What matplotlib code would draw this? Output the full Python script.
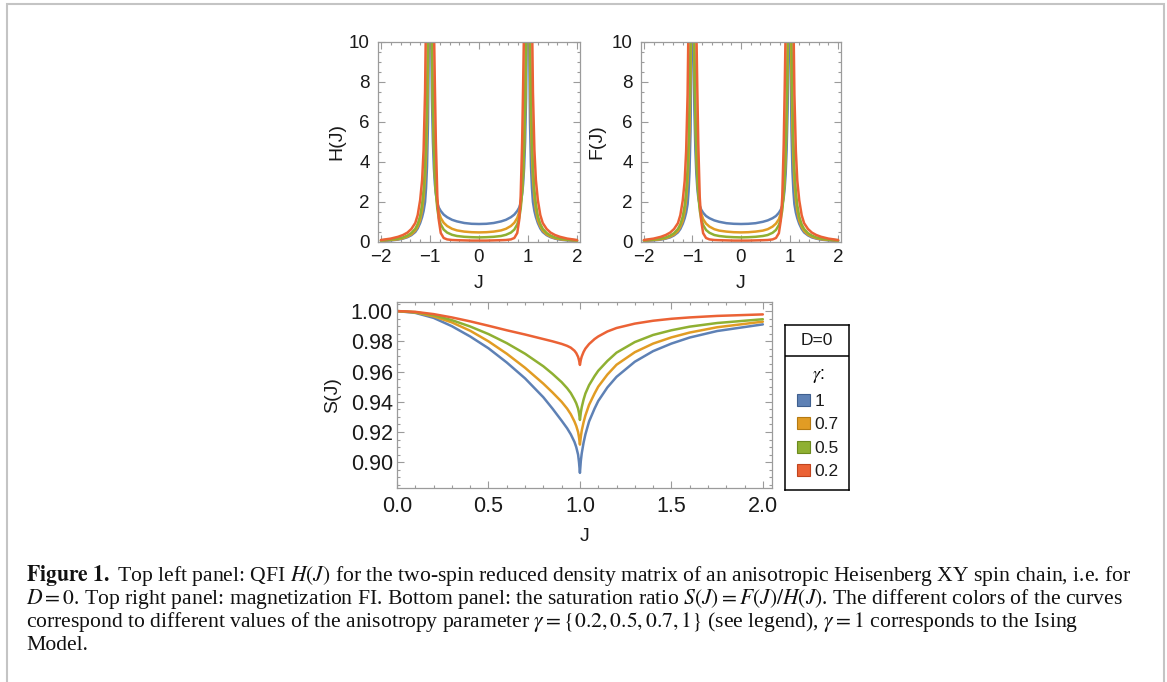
import matplotlib
matplotlib.use("Agg")
import matplotlib.pyplot as plt
from matplotlib.patches import Patch, Rectangle
from matplotlib.ticker import MultipleLocator, FormatStrFormatter

# ---- data -----------------------------------------------------------------
gamma_labels = ["1", "0.7", "0.5", "0.2"]
colors = ["#5E81B5", "#E19C24", "#8FB032", "#EB6235"]
edge_colors = ["#3F5F8F", "#B57A12", "#6C8A1E", "#C0441E"]

J_top = [-2.0, -1.8, -1.65, -1.55, -1.46, -1.38, -1.3, -1.25, -1.2, -1.16, -1.13,
         -1.1, -1.08, -1.06, -1.04, -1.02, -1.0, -0.98, -0.96, -0.94, -0.92, -0.9,
         -0.88, -0.85, -0.82, -0.78, -0.72, -0.65, -0.55, -0.45, -0.3, -0.15,
         0.0,
         0.15, 0.3, 0.45, 0.55, 0.65, 0.72, 0.78, 0.82, 0.85, 0.88, 0.9, 0.92,
         0.94, 0.96, 0.98, 1.0, 1.02, 1.04, 1.06, 1.08, 1.1, 1.13, 1.16, 1.2,
         1.25, 1.3, 1.38, 1.46, 1.55, 1.65, 1.8, 2.0]

# QFI H(J)
H_g1 = [0.05, 0.08, 0.12, 0.17, 0.24, 0.34, 0.5, 0.68, 0.95, 1.25, 1.55,
        2.0, 2.7, 3.8, 6.0, 11.0, 18.0, 11.5, 7.2, 5.0, 3.7, 2.9,
        2.4, 1.95, 1.72, 1.55, 1.37, 1.24, 1.11, 1.03, 0.95, 0.91,
        0.90,
        0.91, 0.95, 1.03, 1.11, 1.24, 1.37, 1.55, 1.72, 1.95, 2.4, 2.9, 3.7,
        5.0, 7.2, 11.5, 18.0, 11.0, 6.0, 3.8, 2.7, 2.0, 1.55, 1.25, 0.95,
        0.68, 0.5, 0.34, 0.24, 0.17, 0.12, 0.08, 0.05]
H_g07 = [0.07, 0.1, 0.14, 0.19, 0.27, 0.38, 0.57, 0.78, 1.1, 1.6, 2.2,
         3.2, 4.3, 6.0, 9.0, 13.0, 20.0, 14.0, 9.5, 6.6, 4.7, 3.4,
         2.6, 1.85, 1.5, 1.2, 0.96, 0.8, 0.66, 0.58, 0.52, 0.49,
         0.48,
         0.49, 0.52, 0.58, 0.66, 0.8, 0.96, 1.2, 1.5, 1.85, 2.6, 3.4, 4.7,
         6.6, 9.5, 14.0, 20.0, 13.0, 9.0, 6.0, 4.3, 3.2, 2.2, 1.6, 1.1,
         0.78, 0.57, 0.38, 0.27, 0.19, 0.14, 0.1, 0.07]
H_g05 = [0.08, 0.12, 0.17, 0.23, 0.32, 0.45, 0.66, 0.9, 1.3, 1.9, 2.6,
         3.8, 5.2, 7.3, 10.5, 15.0, 22.0, 15.0, 10.2, 7.0, 4.9, 3.4,
         2.5, 1.65, 1.2, 0.88, 0.62, 0.47, 0.36, 0.3, 0.26, 0.24,
         0.23,
         0.24, 0.26, 0.3, 0.36, 0.47, 0.62, 0.88, 1.2, 1.65, 2.5, 3.4, 4.9,
         7.0, 10.2, 15.0, 22.0, 15.0, 10.5, 7.3, 5.2, 3.8, 2.6, 1.9, 1.3,
         0.9, 0.66, 0.45, 0.32, 0.23, 0.17, 0.12, 0.08]
H_g02 = [0.1, 0.17, 0.26, 0.35, 0.47, 0.65, 0.95, 1.35, 2.1, 3.1, 4.6,
         7.5, 11.5, 15.0, 20.0, 25.0, 30.0, 26.0, 20.0, 15.0, 11.0, 7.8,
         5.0, 2.3, 1.1, 0.45, 0.2, 0.13, 0.1, 0.09, 0.08, 0.07,
         0.07,
         0.07, 0.08, 0.09, 0.1, 0.13, 0.2, 0.45, 1.1, 2.3, 5.0, 7.8, 11.0,
         15.0, 20.0, 26.0, 30.0, 25.0, 20.0, 15.0, 11.5, 7.5, 4.6, 3.1, 2.1,
         1.35, 0.95, 0.65, 0.47, 0.35, 0.26, 0.17, 0.1]

# magnetization FI F(J)
F_g1 = [0.05, 0.08, 0.12, 0.17, 0.23, 0.33, 0.48, 0.65, 0.91, 1.19, 1.47,
        1.89, 2.53, 3.54, 5.54, 10.0, 16.1, 10.5, 6.6, 4.6, 3.42, 2.69,
        2.23, 1.82, 1.62, 1.46, 1.3, 1.19, 1.08, 1.01, 0.94, 0.91,
        0.90,
        0.91, 0.94, 1.01, 1.08, 1.19, 1.3, 1.46, 1.62, 1.82, 2.23, 2.69, 3.42,
        4.6, 6.6, 10.5, 16.1, 10.0, 5.54, 3.54, 2.53, 1.89, 1.47, 1.19, 0.91,
        0.65, 0.48, 0.33, 0.23, 0.17, 0.12, 0.08, 0.05]
F_g07 = [0.07, 0.1, 0.14, 0.19, 0.27, 0.37, 0.55, 0.76, 1.06, 1.54, 2.11,
         3.05, 4.08, 5.66, 8.42, 12.1, 18.2, 12.9, 8.83, 6.16, 4.4, 3.2,
         2.45, 1.75, 1.43, 1.14, 0.92, 0.77, 0.64, 0.57, 0.52, 0.49,
         0.48,
         0.49, 0.52, 0.57, 0.64, 0.77, 0.92, 1.14, 1.43, 1.75, 2.45, 3.2, 4.4,
         6.16, 8.83, 12.9, 18.2, 12.1, 8.42, 5.66, 4.08, 3.05, 2.11, 1.54, 1.06,
         0.76, 0.55, 0.37, 0.27, 0.19, 0.14, 0.1, 0.07]
F_g05 = [0.08, 0.12, 0.17, 0.23, 0.32, 0.44, 0.65, 0.88, 1.27, 1.84, 2.51,
         3.66, 4.98, 6.96, 9.96, 14.1, 20.4, 14.1, 9.61, 6.62, 4.65, 3.24,
         2.39, 1.58, 1.15, 0.85, 0.6, 0.46, 0.35, 0.3, 0.26, 0.24,
         0.23,
         0.24, 0.26, 0.3, 0.35, 0.46, 0.6, 0.85, 1.15, 1.58, 2.39, 3.24, 4.65,
         6.62, 9.61, 14.1, 20.4, 14.1, 9.96, 6.96, 4.98, 3.66, 2.51, 1.84, 1.27,
         0.88, 0.65, 0.44, 0.32, 0.23, 0.17, 0.12, 0.08]
F_g02 = [0.1, 0.17, 0.26, 0.35, 0.47, 0.65, 0.94, 1.34, 2.08, 3.06, 4.54,
         7.38, 11.3, 14.7, 19.5, 24.3, 28.9, 25.3, 19.5, 14.6, 10.7, 7.63,
         4.9, 2.25, 1.08, 0.44, 0.2, 0.13, 0.1, 0.09, 0.08, 0.07,
         0.07,
         0.07, 0.08, 0.09, 0.1, 0.13, 0.2, 0.44, 1.08, 2.25, 4.9, 7.63, 10.7,
         14.6, 19.5, 25.3, 28.9, 24.3, 19.5, 14.7, 11.3, 7.38, 4.54, 3.06, 2.08,
         1.34, 0.94, 0.65, 0.47, 0.35, 0.26, 0.17, 0.1]

# saturation ratio S(J)
J_bottom = [0.0, 0.1, 0.2, 0.3, 0.4, 0.5, 0.6, 0.7, 0.8, 0.85, 0.9, 0.93, 0.95,
            0.97, 0.98, 0.99, 0.995, 1.0, 1.005, 1.01, 1.02, 1.03, 1.05, 1.08,
            1.1, 1.15, 1.2, 1.3, 1.4, 1.5, 1.6, 1.75, 2.0]
S_g1 = [1.0, 0.9988, 0.9955, 0.9900, 0.9832, 0.9754, 0.9660, 0.9555, 0.9430,
        0.9355, 0.9275, 0.9225, 0.9185, 0.9135, 0.9100, 0.9050, 0.9000, 0.8930,
        0.9010, 0.9060, 0.9130, 0.9185, 0.9270, 0.9355, 0.9405, 0.9495, 0.9565,
        0.9665, 0.9735, 0.9785, 0.9825, 0.9868, 0.9912]
S_g07 = [1.0, 0.9991, 0.9965, 0.9925, 0.9870, 0.9800, 0.9718, 0.9625, 0.9520,
         0.9462, 0.9400, 0.9355, 0.9318, 0.9270, 0.9240, 0.9200, 0.9165, 0.9117,
         0.9170, 0.9210, 0.9265, 0.9310, 0.9380, 0.9455, 0.9500, 0.9580, 0.9645,
         0.9728, 0.9785, 0.9826, 0.9858, 0.9893, 0.9930]
S_g05 = [1.0, 0.9993, 0.9973, 0.9940, 0.9898, 0.9848, 0.9788, 0.9718, 0.9635,
         0.9585, 0.9530, 0.9490, 0.9458, 0.9415, 0.9390, 0.9355, 0.9325, 0.9280,
         0.9330, 0.9365, 0.9415, 0.9455, 0.9510, 0.9570, 0.9605, 0.9670, 0.9725,
         0.9795, 0.9842, 0.9873, 0.9897, 0.9921, 0.9946]
S_g02 = [1.0, 0.9995, 0.9980, 0.9958, 0.9932, 0.9903, 0.9873, 0.9845, 0.9815,
         0.9800, 0.9783, 0.9770, 0.9758, 0.9738, 0.9722, 0.9697, 0.9675, 0.9644,
         0.9678, 0.9700, 0.9730, 0.9752, 0.9782, 0.9815, 0.9832, 0.9865, 0.9888,
         0.9917, 0.9936, 0.9949, 0.9958, 0.9968, 0.9978]

H_series = [H_g1, H_g07, H_g05, H_g02]
F_series = [F_g1, F_g07, F_g05, F_g02]
S_series = [S_g1, S_g07, S_g05, S_g02]

# ---- styling ---------------------------------------------------------------
plt.rcParams["font.family"] = ["Liberation Sans", "DejaVu Sans"]
plt.rcParams["mathtext.fontset"] = "stix"

W, Hpx = 1167, 682
fig = plt.figure(figsize=(W / 100, Hpx / 100), dpi=100)
fig.patch.set_facecolor("white")


def px_box(x0, y0, x1, y1):
    return [x0 / W, 1 - y1 / Hpx, (x1 - x0) / W, (y1 - y0) / Hpx]


frame_col = "#9b9b9b"
text_col = "#1a1a1a"
LW = 1.8
LABEL_FS = 14


def style_axes(ax, xmaj, xmin, ymaj, ymin, xpad, ypad, fs):
    for s in ax.spines.values():
        s.set_color(frame_col)
        s.set_linewidth(0.9)
    ax.xaxis.set_major_locator(MultipleLocator(xmaj))
    ax.xaxis.set_minor_locator(MultipleLocator(xmin))
    ax.yaxis.set_major_locator(MultipleLocator(ymaj))
    ax.yaxis.set_minor_locator(MultipleLocator(ymin))
    ax.tick_params(which="both", direction="in", top=True, right=True,
                   color=frame_col, labelsize=fs, labelcolor=text_col, width=0.8)
    ax.tick_params(which="major", length=5)
    ax.tick_params(which="minor", length=2.5)
    ax.tick_params(axis="x", which="both", pad=xpad)
    ax.tick_params(axis="y", which="both", pad=ypad)


def draw_curves(ax, x, series):
    for vals, c in zip(series, colors):
        ax.plot(x, vals, color=c, lw=LW, solid_joinstyle="round",
                solid_capstyle="round")


# top-left: H(J)
ax_h = fig.add_axes(px_box(378, 42, 580, 242))
draw_curves(ax_h, J_top, H_series)
ax_h.set_xlim(-2.06, 2.06)
ax_h.set_ylim(0, 10)
style_axes(ax_h, 1, 0.2, 2, 0.5, 5, 6, 13.5)
ax_h.set_ylabel("H(J)", fontsize=LABEL_FS, color=text_col, va="center")
ax_h.yaxis.set_label_coords(-0.205, 0.5)
ax_h.set_xlabel("J", fontsize=LABEL_FS, color=text_col, va="center")
ax_h.xaxis.set_label_coords(0.5, -0.21)

# top-right: F(J)
ax_f = fig.add_axes(px_box(641, 42, 841, 242))
draw_curves(ax_f, J_top, F_series)
ax_f.set_xlim(-2.06, 2.06)
ax_f.set_ylim(0, 10)
style_axes(ax_f, 1, 0.2, 2, 0.5, 5, 6, 13.5)
ax_f.set_ylabel("F(J)", fontsize=LABEL_FS, color=text_col, va="center")
ax_f.yaxis.set_label_coords(-0.22, 0.5)
ax_f.set_xlabel("J", fontsize=LABEL_FS, color=text_col, va="center")
ax_f.xaxis.set_label_coords(0.5, -0.21)

# bottom: S(J) = F(J)/H(J)
ax_s = fig.add_axes(px_box(397, 302, 772, 488))
draw_curves(ax_s, J_bottom, S_series)
ax_s.set_xlim(0, 2.05)
ax_s.set_ylim(0.883, 1.006)
style_axes(ax_s, 0.5, 0.1, 0.02, 0.005, 6, 3, 15.5)
ax_s.xaxis.set_major_formatter(FormatStrFormatter("%.1f"))
ax_s.yaxis.set_major_formatter(FormatStrFormatter("%.2f"))
ax_s.set_ylabel("S(J)", fontsize=LABEL_FS, color=text_col, va="center")
ax_s.yaxis.set_label_coords(-0.171, 0.5)
ax_s.set_xlabel("J", fontsize=LABEL_FS, color=text_col, va="center")
ax_s.xaxis.set_label_coords(0.5, -0.263)

# legend box
lax = fig.add_axes(px_box(785, 325, 849, 490))
lax.set_xticks([])
lax.set_yticks([])
for s in lax.spines.values():
    s.set_color("black")
    s.set_linewidth(1.1)
lax.axhline(0.812, color="black", lw=1.1)
lax.text(0.5, 0.906, "D=0", ha="center", va="center", fontsize=12.5, color=text_col,
         transform=lax.transAxes)
handles = [Patch(facecolor=c, edgecolor=e, linewidth=0.8)
           for c, e in zip(colors, edge_colors)]
leg = lax.legend(handles, gamma_labels, title=r"$\gamma$:", loc="upper center",
                 bbox_to_anchor=(0.52, 0.75), frameon=False, fontsize=12.5,
                 title_fontsize=13, handlelength=0.7, handleheight=0.7,
                 handletextpad=0.3, labelspacing=0.48, borderpad=0.0,
                 borderaxespad=0.0)
for t in leg.get_texts():
    t.set_color(text_col)

# outer border of the figure panel
fig.patches.append(Rectangle((7 / W, -0.05), (1164 - 7) / W, 1.05 - 4 / Hpx,
                             transform=fig.transFigure, fill=False,
                             edgecolor="#c4c4c4", linewidth=1.5))

# caption
caption_lines = [
    r"$\mathbf{Figure\ 1.}$ Top left panel: QFI $H(J)$ for the two-spin reduced density "
    r"matrix of an anisotropic Heisenberg XY spin chain, i.e. for",
    r"$D=0$. Top right panel: magnetization FI. Bottom panel: the saturation ratio "
    r"$S(J)=F(J)/H(J)$. The different colors of the curves",
    r"correspond to different values of the anisotropy parameter "
    r"$\gamma=\{0.2,0.5,0.7,1\}$ (see legend), $\gamma=1$ corresponds to the Ising",
    "Model.",
]
baselines = [581, 604, 627, 650]
cap_texts = []
for line, yb in zip(caption_lines, baselines):
    cap_texts.append(fig.text(26 / W, 1 - yb / Hpx, line, ha="left", va="baseline",
                              fontsize=14, family=["Liberation Serif", "DejaVu Serif"],
                              color="#111111"))
fig.canvas.draw()
renderer = fig.canvas.get_renderer()
width_now = cap_texts[1].get_window_extent(renderer).width
scale = 1100.0 / width_now
for t in cap_texts:
    t.set_fontsize(14 * scale)

fig.savefig("out.png", dpi=100, facecolor="white")
